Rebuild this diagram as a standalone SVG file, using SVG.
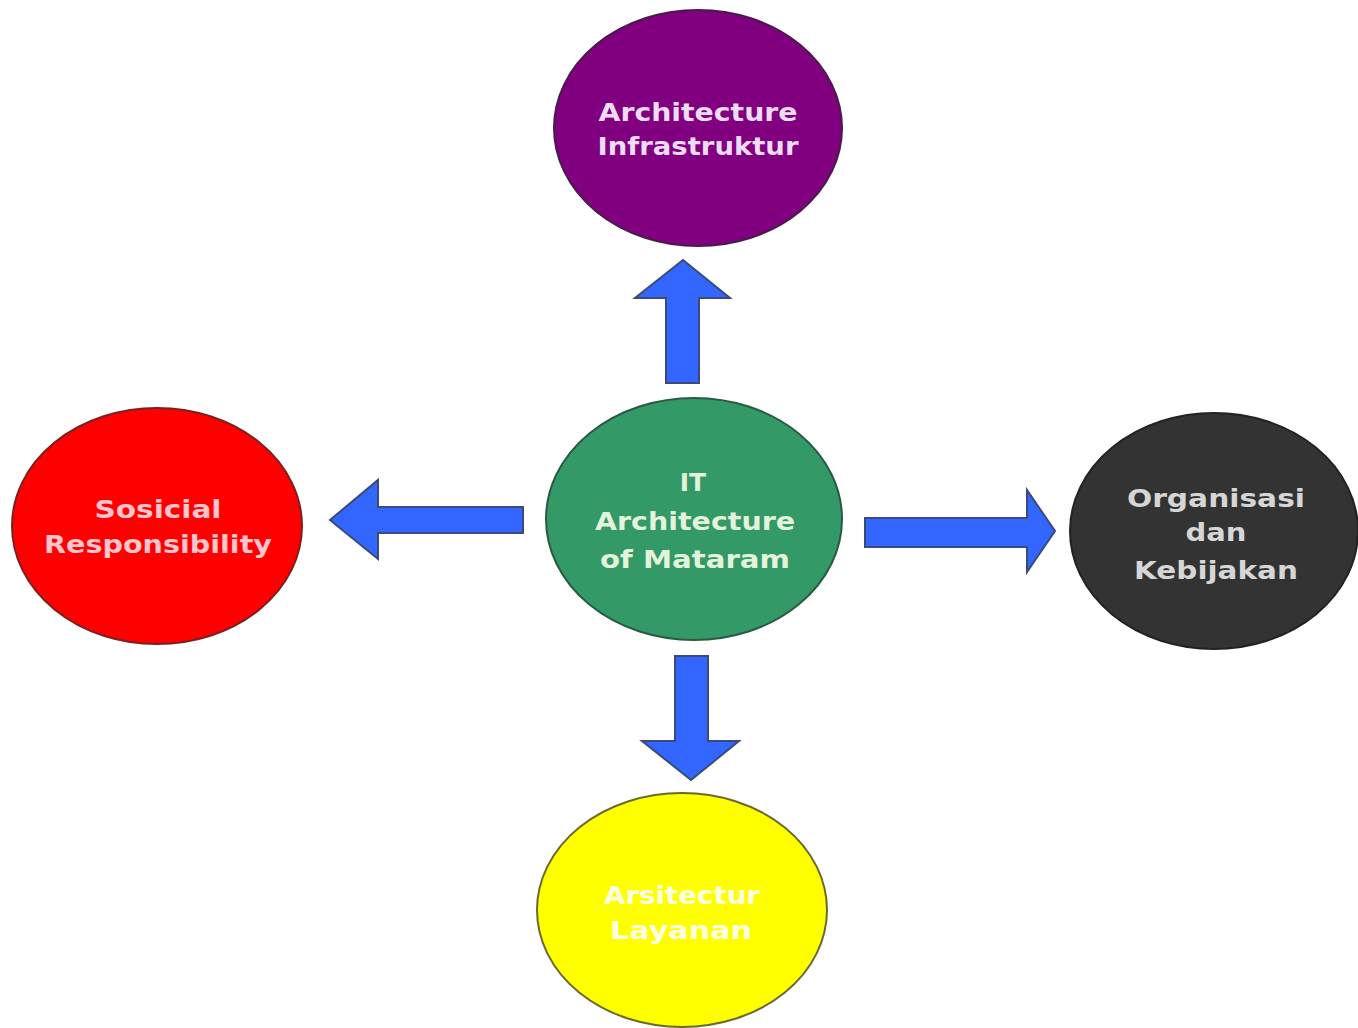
<svg xmlns="http://www.w3.org/2000/svg" width="1358" height="1028" viewBox="0 0 1358 1028">
<style>
.node{stroke-width:2}
.lbl{font-family:"DejaVu Sans","Liberation Sans",sans-serif;font-size:25px;text-anchor:middle;font-weight:bold}
.arrow{fill:#3366ff;stroke:#3a4a7a;stroke-width:2;stroke-linejoin:miter}
</style>
<rect width="1358" height="1028" fill="#ffffff"/>
<g id="connectors">
<polygon class="arrow" points="666,383 666,298 635,298 683,260 730,298 699,298 699,383"/>
<polygon class="arrow" points="523,507 378,507 378,480 330,520 378,559 378,533 523,533"/>
<polygon class="arrow" points="865,518 1027,518 1027,490 1055,531 1027,572 1027,547 865,547"/>
<polygon class="arrow" points="675,656 708,656 708,741 739,741 691,780 642,741 675,741"/>
</g>
<g id="node-infrastruktur">
<ellipse class="node" cx="698" cy="128" rx="144" ry="118" fill="#800080" stroke="#4a1a4a"/>
<text class="lbl" x="698" y="121" fill="#eedcf4" textLength="199" lengthAdjust="spacingAndGlyphs">Architecture</text>
<text class="lbl" x="698" y="155" fill="#eedcf4" textLength="201" lengthAdjust="spacingAndGlyphs">Infrastruktur</text>
</g>
<g id="node-center">
<ellipse class="node" cx="694" cy="519" rx="148" ry="121" fill="#339966" stroke="#2a5a44"/>
<text class="lbl" x="693" y="491" fill="#e4f4dc">IT</text>
<text class="lbl" x="695" y="530" fill="#e4f4dc" textLength="200" lengthAdjust="spacingAndGlyphs">Architecture</text>
<text class="lbl" x="695" y="568" fill="#e4f4dc" textLength="190" lengthAdjust="spacingAndGlyphs">of Mataram</text>
</g>
<g id="node-sosial">
<ellipse class="node" cx="157" cy="526" rx="145" ry="118" fill="#ff0000" stroke="#7a2020"/>
<text class="lbl" x="158" y="518" fill="#ffc4cc" textLength="127" lengthAdjust="spacingAndGlyphs">Sosicial</text>
<text class="lbl" x="158" y="553" fill="#ffc4cc" textLength="228" lengthAdjust="spacingAndGlyphs">Responsibility</text>
</g>
<g id="node-organisasi">
<ellipse class="node" cx="1214" cy="531" rx="144" ry="118" fill="#333333" stroke="#222222"/>
<text class="lbl" x="1216" y="507" fill="#d6d6d6" textLength="178" lengthAdjust="spacingAndGlyphs">Organisasi</text>
<text class="lbl" x="1216" y="541" fill="#d6d6d6" textLength="61" lengthAdjust="spacingAndGlyphs">dan</text>
<text class="lbl" x="1216" y="579" fill="#d6d6d6" textLength="164" lengthAdjust="spacingAndGlyphs">Kebijakan</text>
</g>
<g id="node-layanan">
<ellipse class="node" cx="682" cy="910" rx="145" ry="117" fill="#ffff00" stroke="#6a6a30"/>
<text class="lbl" x="682" y="904" fill="#ffffe6" textLength="156" lengthAdjust="spacingAndGlyphs">Arsitectur</text>
<text class="lbl" x="681" y="939" fill="#ffffe6" textLength="142" lengthAdjust="spacingAndGlyphs">Layanan</text>
</g>
</svg>
